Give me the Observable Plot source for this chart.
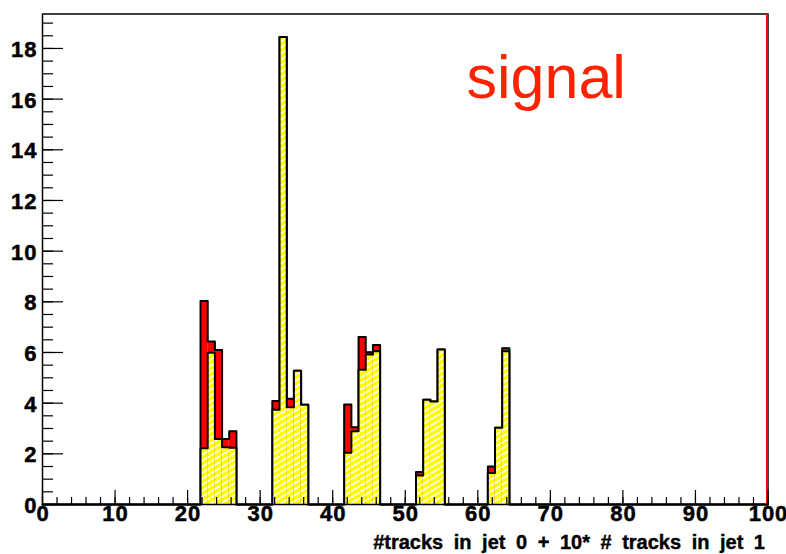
<!DOCTYPE html>
<html><head><meta charset="utf-8">
<script src="https://cdn.jsdelivr.net/npm/d3@7"></script>
<script src="https://cdn.jsdelivr.net/npm/@observablehq/plot@0.6"></script>
<style>
body{margin:0;background:#fff}
#chart svg{font-family:"Liberation Sans",Arial,Helvetica,sans-serif}
</style>
</head><body><div id="chart"></div>
<script>
// ---- data ----
// bin indices (histogram has 101 bins spanning 0..100)
const binIndex     = [22, 23, 24, 25, 26, 32, 33, 34, 35, 36, 42, 43, 44, 45, 46, 52, 53, 54, 55, 62, 63, 64];
const totalValues  = [8.03, 6.43, 6.10, 2.59, 2.89, 4.09, 18.45, 4.17, 5.28, 3.94, 3.95, 3.05, 6.61, 6.01, 6.30, 1.28, 4.13, 4.07, 6.12, 1.50, 3.03, 6.17];
const yellowValues = [2.22, 5.99, 2.59, 2.26, 2.24, 3.74, 18.45, 3.84, 5.28, 3.94, 2.04, 2.89, 5.32, 5.92, 6.05, 1.14, 4.13, 4.07, 6.12, 1.24, 3.03, 6.05];
const nBins = 101;
const xDomain = [0, 100];
const yDomain = [0, 19.36];
const xMajorTicks = [0, 10, 20, 30, 40, 50, 60, 70, 80, 90, 100];
const xMinorTicks = d3.range(0, 101, 2);
const yMajorTicks = [0, 2, 4, 6, 8, 10, 12, 14, 16, 18];
const yMinorTicks = d3.range(0, 19.3, 0.5);
const axisTitle = "#tracks in jet 0 + 10* # tracks in jet 1";
const annotation = "signal";

// ---- layout ----
const W = 786, H = 554;
const mL = 42, mR = 18.5, mT = 13.5, mB = 50;
const plotW = W - mL - mR, plotH = H - mT - mB;
const binWidth = (xDomain[1] - xDomain[0]) / nBins;

const rows = binIndex.map((k, i) => ({x0: k * binWidth, x1: (k + 1) * binWidth, total: totalValues[i], part: yellowValues[i]}));
const totalMap = new Map(binIndex.map((k, i) => [k, totalValues[i]]));
const partMap = new Map(binIndex.map((k, i) => [k, yellowValues[i]]));
const allBins = d3.range(nBins);
const stepTotal = allBins.map(k => ({x: k * binWidth, y: totalMap.get(k) ?? 0})).concat([{x: xDomain[1], y: 0}]);
const stepPart = allBins.map(k => ({x: k * binWidth, y: partMap.get(k) ?? 0})).concat([{x: xDomain[1], y: 0}]);

const font = "Liberation Sans, Arial, Helvetica, sans-serif";

const svg = Plot.plot({
  width: W, height: H,
  marginLeft: mL, marginRight: mR, marginTop: mT, marginBottom: mB,
  style: {fontFamily: font, background: "white", overflow: "visible"},
  x: {domain: xDomain, axis: null},
  y: {domain: yDomain, axis: null},
  marks: [
    Plot.rectY(rows, {x1: "x0", x2: "x1", y: "total", fill: "#ff0000"}),
    Plot.line(stepTotal, {x: "x", y: "y", curve: "step-after", stroke: "black", strokeWidth: 2}),
    Plot.rectY(rows, {x1: "x0", x2: "x1", y: "part", fill: "url(#hatch)"}),
    Plot.line(stepPart, {x: "x", y: "y", curve: "step-after", stroke: "black", strokeWidth: 2}),
    Plot.frame({stroke: "black", strokeWidth: 1.5}),
    Plot.ruleX([xDomain[1]], {stroke: "#ff0000", strokeWidth: 2, dx: -1}),
    // x ticks (inward)
    Plot.tickX(xMinorTicks, {x: d => d, stroke: "black", strokeWidth: 1.2, insetTop: plotH - 7}),
    Plot.tickX(xMajorTicks, {x: d => d, stroke: "black", strokeWidth: 1.2, insetTop: plotH - 14}),
    // y ticks (inward)
    Plot.tickY(yMinorTicks, {y: d => d, stroke: "black", strokeWidth: 1.2, insetRight: plotW - 11}),
    Plot.tickY(yMajorTicks, {y: d => d, stroke: "black", strokeWidth: 1.2, insetRight: plotW - 21}),
    // tick labels
    Plot.text(xMajorTicks, {x: d => d, frameAnchor: "bottom", text: d => String(d), lineAnchor: "bottom", dy: 16, dx: 0.5,
      fontSize: 22, fontWeight: "bold", fill: "black", textAnchor: "middle", fontFamily: font}),
    Plot.text(yMajorTicks, {y: d => d, frameAnchor: "left", text: d => String(d), lineAnchor: "middle", dx: -5, dy: 1.5,
      fontSize: 22, fontWeight: "bold", fill: "black", textAnchor: "end", fontFamily: font}),
    // axis title
    Plot.text([axisTitle], {frameAnchor: "bottom-right", text: d => d, lineAnchor: "bottom", textAnchor: "end",
      dx: -3, dy: 44, fontSize: 20, fontWeight: "bold", fill: "black", fontFamily: font}),
    // annotation
    Plot.text([annotation], {frameAnchor: "top-left", text: d => d, lineAnchor: "bottom", textAnchor: "start",
      dx: 424, dy: 83.5, fontSize: 61, fill: "#ff2200", fontFamily: font})
  ]
});

const ns = "http://www.w3.org/2000/svg";
const defs = document.createElementNS(ns, "defs");
defs.innerHTML = '<pattern id="hatch" patternUnits="userSpaceOnUse" width="10" height="6">' +
  '<rect width="10" height="6" fill="#ffff00"/>' +
  '<path d="M-1,6.6 L11,-0.6" stroke="white" stroke-width="1.6" fill="none"/>' +
  '</pattern>';
svg.insertBefore(defs, svg.firstChild);

svg.querySelectorAll("text").forEach(t => {
  const s = t.textContent;
  if (s === axisTitle) {
    t.style.wordSpacing = "5px";
    t.style.fontWeight = "700";
    t.style.stroke = "black";
    t.style.strokeWidth = "0.4px";
  } else if (/^\d+$/.test(s)) {
    t.style.letterSpacing = "1px";
    t.style.fontWeight = "700";
    t.style.stroke = "black";
    t.style.strokeWidth = "0.5px";
  }
});

document.getElementById("chart").appendChild(svg);
</script>
</body></html>
